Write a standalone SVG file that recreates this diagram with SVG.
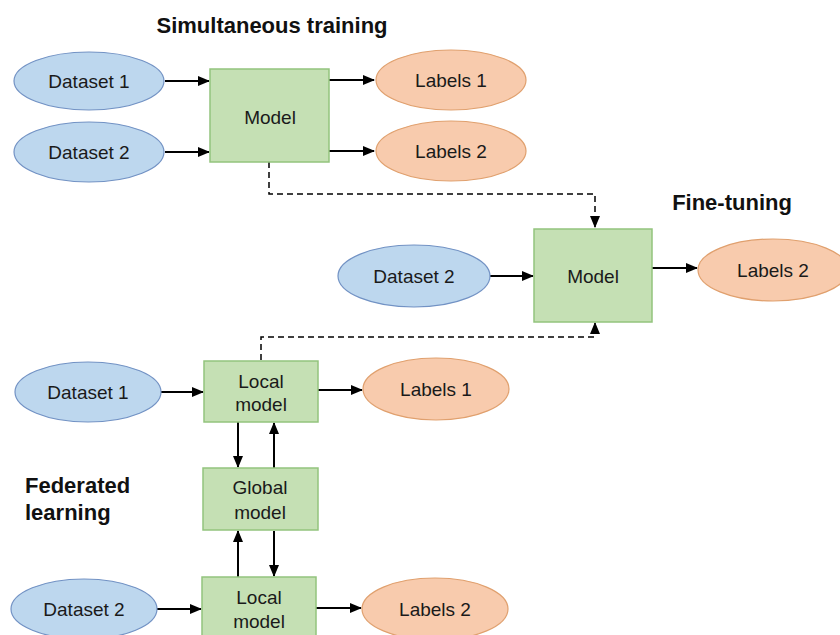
<svg xmlns="http://www.w3.org/2000/svg" width="840" height="635" viewBox="0 0 840 635">
<style>
.ds{fill:#bdd7ee;stroke:#7292c4;stroke-width:1.2}
.lb{fill:#f8cbad;stroke:#e0a06e;stroke-width:1.2}
.md{fill:#c5e0b4;stroke:#93c47d;stroke-width:1.5}
.t{font-family:"Liberation Sans",Arial,sans-serif;font-size:19px;fill:#1a1a1a;text-anchor:middle}
.h{font-family:"Liberation Sans",Arial,sans-serif;font-size:22px;font-weight:bold;fill:#111}
.c{fill:none;stroke:#000;stroke-width:2}
.d{fill:none;stroke:#000;stroke-width:1.5;stroke-dasharray:6,4}
</style>
<defs>
<marker id="ah" markerWidth="12" markerHeight="12" refX="11" refY="6" orient="auto" markerUnits="userSpaceOnUse" viewBox="0 0 12 12">
<path d="M0,1 L12,6 L0,11 z" fill="#000"/>
</marker>
</defs>
<rect width="840" height="635" fill="#fff"/>
<text class="h" x="272" y="33" text-anchor="middle">Simultaneous training</text>
<text class="h" x="732" y="210" text-anchor="middle">Fine-tuning</text>
<text class="h" x="25" y="493">Federated</text>
<text class="h" x="25" y="520">learning</text>

<g id="connectors">
<path class="c" d="M165,81 H209" marker-end="url(#ah)"/>
<path class="c" d="M165,152 H209" marker-end="url(#ah)"/>
<path class="c" d="M329,80 H374" marker-end="url(#ah)"/>
<path class="c" d="M329,151 H374" marker-end="url(#ah)"/>
<path class="d" d="M269,162 V194 H595 V227" marker-end="url(#ah)"/>
<path class="c" d="M490,276 H533" marker-end="url(#ah)"/>
<path class="c" d="M652,268 H697" marker-end="url(#ah)"/>
<path class="d" d="M261,360 V337 H595 V323" marker-end="url(#ah)"/>
<path class="c" d="M161,392 H203" marker-end="url(#ah)"/>
<path class="c" d="M318,390 H362" marker-end="url(#ah)"/>
<path class="c" d="M238,422 V467" marker-end="url(#ah)"/>
<path class="c" d="M274,468 V423" marker-end="url(#ah)"/>
<path class="c" d="M238,577 V531" marker-end="url(#ah)"/>
<path class="c" d="M274,531 V576" marker-end="url(#ah)"/>
<path class="c" d="M157,609 H201" marker-end="url(#ah)"/>
<path class="c" d="M316,608 H361" marker-end="url(#ah)"/>
</g>

<g id="st-dataset1"><ellipse class="ds" cx="89" cy="81" rx="75" ry="29"/><text class="t" x="89" y="88">Dataset 1</text></g>
<g id="st-dataset2"><ellipse class="ds" cx="89" cy="152" rx="75" ry="30"/><text class="t" x="89" y="159">Dataset 2</text></g>
<g id="st-model"><rect class="md" x="210" y="69" width="119" height="93"/><text class="t" x="270" y="124">Model</text></g>
<g id="st-labels1"><ellipse class="lb" cx="451" cy="80" rx="75" ry="30"/><text class="t" x="451" y="87">Labels 1</text></g>
<g id="st-labels2"><ellipse class="lb" cx="451" cy="151" rx="75" ry="30"/><text class="t" x="451" y="158">Labels 2</text></g>

<g id="ft-dataset2"><ellipse class="ds" cx="414" cy="276" rx="76" ry="31"/><text class="t" x="414" y="283">Dataset 2</text></g>
<g id="ft-model"><rect class="md" x="534" y="229" width="118" height="93"/><text class="t" x="593" y="283">Model</text></g>
<g id="ft-labels2"><ellipse class="lb" cx="773" cy="270" rx="75" ry="31"/><text class="t" x="773" y="277">Labels 2</text></g>

<g id="fl-dataset1"><ellipse class="ds" cx="88" cy="392" rx="73" ry="30"/><text class="t" x="88" y="399">Dataset 1</text></g>
<g id="fl-local1"><rect class="md" x="204" y="361" width="114" height="61"/><text class="t" x="261" y="388">Local</text><text class="t" x="261" y="411">model</text></g>
<g id="fl-labels1"><ellipse class="lb" cx="436" cy="389" rx="73" ry="31"/><text class="t" x="436" y="396">Labels 1</text></g>
<g id="fl-global"><rect class="md" x="203" y="468" width="115" height="62"/><text class="t" x="260" y="494">Global</text><text class="t" x="260" y="519">model</text></g>
<g id="fl-dataset2"><ellipse class="ds" cx="84" cy="609" rx="73" ry="30"/><text class="t" x="84" y="616">Dataset 2</text></g>
<g id="fl-local2"><rect class="md" x="202" y="577" width="114" height="62"/><text class="t" x="259" y="604">Local</text><text class="t" x="259" y="628">model</text></g>
<g id="fl-labels2"><ellipse class="lb" cx="435" cy="609" rx="73" ry="31"/><text class="t" x="435" y="616">Labels 2</text></g>
</svg>
